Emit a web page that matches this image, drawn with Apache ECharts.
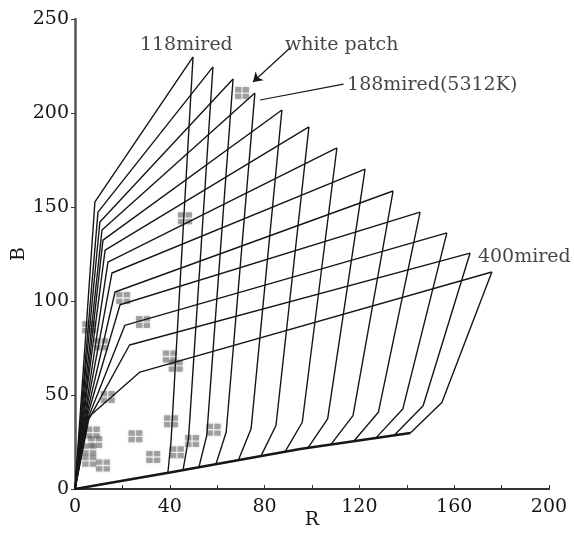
<!DOCTYPE html>
<html>
<head>
<meta charset="utf-8">
<script src="https://cdn.jsdelivr.net/npm/echarts@6/dist/echarts.min.js"></script>
<style>
  html, body { margin: 0; padding: 0; background: #fff; }
  #chart { width: 574px; height: 535px; }
</style>
</head>
<body>
<div id="chart"></div>
<script>
// Iso-mired curves (118 ... 400 mired): origin -> low bend -> knee -> end point
const miredLowR  = [4.2, 4.5, 4.6, 4.8, 5.0, 5.0, 5.2, 5.3, 5.4, 5.5, 5.6, 5.8, 5.5];
const miredLowB  = [76, 70, 65, 60, 56, 52, 48, 45, 42, 40, 38, 37, 38];
const miredKneeR = [8.4, 9.7, 10.5, 11.4, 11.8, 12.7, 13.9, 15.6, 16.9, 19, 21, 23, 27.4];
const miredKneeB = [152.7, 147.3, 142, 137.8, 132.4, 127.1, 120.7, 114.9, 104.8, 98, 87, 76.6, 62.2];
const miredEndR  = [49.8, 58.2, 66.7, 75.9, 87.3, 98.7, 110.5, 122.4, 134.2, 145.6, 156.9, 166.7, 175.9];
const miredEndB  = [229.8, 224.5, 218.1, 210.6, 201.6, 192.6, 181.4, 170.2, 158.5, 147.3, 136.2, 125.5, 115.4];

// Cross curves: end point -> bend -> foot on the lower boundary
const crossBendR = [40.5, 47.9, 55.6, 63.8, 74.3, 84.8, 95.9, 106.6, 117.3, 128, 138.3, 146.9, 154.8];
const crossBendB = [25, 26.8, 28.5, 30.3, 32, 33.8, 35.5, 37.3, 39, 40.8, 42.5, 44.3, 46];
const crossFootR = [39.2, 45.6, 52.3, 59.5, 69, 78.5, 88.6, 98.3, 108, 117.7, 127, 134.6, 141.5];
const crossFootB = [8.8, 10.2, 11.7, 13.3, 15.5, 17.6, 19.8, 21.9, 23.7, 25.5, 27.2, 28.5, 29.8];

// Lower boundary curve
const boundaryR = [0, 40, 95, 141.5];
const boundaryB = [0, 8.8, 21.3, 29.8];

// Measured patches
const patchR = [70.5, 46.4, 20.3, 28.7, 40, 42.5, 13.8, 6, 11, 7.5, 6, 6, 11.8, 25.5, 33, 40.5, 43, 49.4, 58.5, 8.5];
const patchB = [210.6, 144, 101.6, 88.8, 70.5, 65.5, 49, 86, 77, 30, 21, 15, 12.5, 28, 17, 36, 19.5, 25.5, 31.5, 25];

// Annotation texts and their anchor points
const noteText = ['118mired', 'white patch', '188mired(5312K)', '400mired'];
const noteR = [27.4, 88.6, 114.8, 170];
const noteB = [236.2, 236.2, 214.9, 123.4];
const arrowFrom = [90.7, 234.6], arrowTo = [75.1, 216.5];
const leaderFrom = [78.1, 206.9], leaderTo = [113.3, 215.4];

// Labelled R values (ticks every 20)
const rLabelStep = 40;

const FONT = 'DejaVu Serif';
const INK = '#161616';
const TEXT = '#151515';

const series = [];
const lineStyle = { color: INK, width: 1.4 };

for (let i = 0; i < miredEndR.length; i++) {
  series.push({
    type: 'line', silent: true, showSymbol: false, symbol: 'none',
    lineStyle: lineStyle,
    data: [[0, 0], [miredLowR[i], miredLowB[i]], [miredKneeR[i], miredKneeB[i]], [miredEndR[i], miredEndB[i]]]
  });
  series.push({
    type: 'line', silent: true, showSymbol: false, symbol: 'none',
    lineStyle: lineStyle,
    data: [[miredEndR[i], miredEndB[i]], [crossBendR[i], crossBendB[i]], [crossFootR[i], crossFootB[i]]]
  });
}
series.push({
  type: 'line', silent: true, showSymbol: false, symbol: 'none',
  lineStyle: { color: INK, width: 2.6 },
  data: boundaryR.map((r, k) => [r, boundaryB[k]])
});

// Patches drawn as grey split squares
series.push({
  type: 'scatter', silent: true,
  symbol: 'path://M0,0H5V4H0Z M6,0H11V4H6Z M0,5H5V9H0Z M6,5H11V9H6Z',
  symbolSize: [14, 12],
  itemStyle: { color: 'rgba(95,95,95,0.62)', shadowBlur: 3, shadowColor: 'rgba(90,90,90,0.5)' },
  data: patchR.map((r, k) => [r, patchB[k]]),
  z: 1
});

// Annotation labels
series.push({
  type: 'scatter', silent: true, symbolSize: 0,
  label: {
    show: true, position: 'inside', align: 'left', verticalAlign: 'middle',
    fontFamily: FONT, fontSize: 19, color: TEXT,
    formatter: p => p.name
  },
  data: noteText.map((t, k) => ({ name: t, value: [noteR[k], noteB[k]] }))
});

// Arrow to the white patch and leader for the 188 mired label
series.push({
  type: 'lines', coordinateSystem: 'cartesian2d', silent: true,
  symbol: ['none', 'arrow'], symbolSize: 9,
  lineStyle: { color: INK, width: 1.2, opacity: 1 },
  data: [{ coords: [arrowFrom, arrowTo] }]
});
series.push({
  type: 'lines', coordinateSystem: 'cartesian2d', silent: true,
  symbol: ['none', 'none'],
  lineStyle: { color: INK, width: 1.2, opacity: 1 },
  data: [{ coords: [leaderFrom, leaderTo] }]
});

const chart = echarts.init(document.getElementById('chart'), null, { renderer: 'canvas' });
chart.setOption({
  animation: false,
  backgroundColor: '#fff',
  grid: { left: 75, right: 25, top: 19, bottom: 46, containLabel: false, outerBoundsMode: 'none' },
  xAxis: {
    type: 'value', min: 0, max: 200, interval: 20,
    name: 'R', nameLocation: 'middle', nameGap: 22, nameMoveOverlap: false,
    nameTextStyle: { fontFamily: FONT, fontSize: 19, color: TEXT },
    axisLine: { lineStyle: { color: '#333', width: 2 } },
    axisTick: { inside: true, length: 4, lineStyle: { color: '#333' } },
    axisLabel: {
      fontFamily: FONT, fontSize: 19, color: TEXT, margin: 9,
      formatter: v => (v % rLabelStep === 0 ? String(v) : '')
    },
    splitLine: { show: false }
  },
  yAxis: {
    type: 'value', min: 0, max: 250, interval: 50,
    name: 'B', nameLocation: 'middle', nameGap: 46, nameRotate: 90, nameMoveOverlap: false,
    nameTextStyle: { fontFamily: FONT, fontSize: 19, color: TEXT },
    axisLine: { lineStyle: { color: '#555', width: 2.5 } },
    axisTick: { inside: false, length: 4, lineStyle: { color: '#333' } },
    axisLabel: { fontFamily: FONT, fontSize: 19, color: TEXT, margin: 6 },
    splitLine: { show: false }
  },
  series: series
});
</script>
</body>
</html>
